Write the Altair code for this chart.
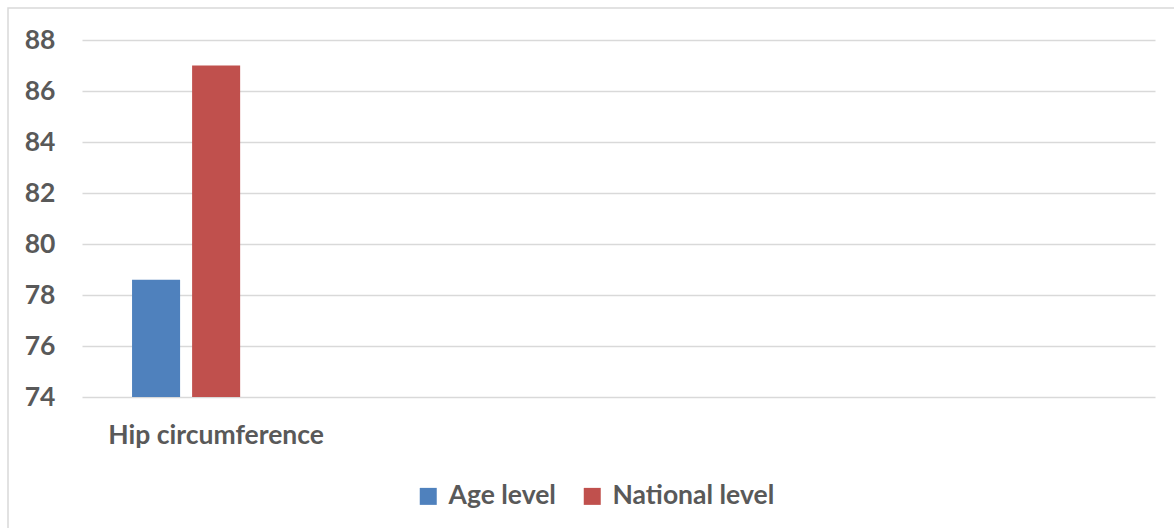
import altair as alt
import pandas as pd

# Category axis: one measured category plus three unlabeled slots
categories = ["Hip circumference", " ", "  ", "   "]
series = ["Age level", "National level", "   "]
series_colors = ["#4F81BD", "#C0504D"]

measure = ["Hip circumference", "Hip circumference"]
level = ["Age level", "National level"]
values = [78.6, 87.0]

y_ticks = [74, 76, 78, 80, 82, 84, 86, 88]

df = pd.DataFrame({"measure": measure, "level": level, "value": values})

FONT = "Lato"
TEXT = "#595959"
GRID = "#D9D9D9"
FS = 26.5

W, H = 1073, 357
PAD_L, PAD_T = 82, 40

bars = alt.Chart(df).mark_bar().encode(
    x=alt.X(
        "measure:N",
        scale=alt.Scale(domain=categories, paddingInner=0, paddingOuter=0),
        sort=categories,
        axis=alt.Axis(
            title=None, domain=False, ticks=False, grid=False,
            labelAngle=0, labelFont=FONT, labelFontWeight="bold",
            labelFontSize=FS, labelColor=TEXT, labelPadding=25,
            labelLimit=400,
        ),
    ),
    xOffset=alt.XOffset(
        "level:N",
        scale=alt.Scale(domain=series, paddingInner=0.2, paddingOuter=0.8333),
    ),
    y=alt.Y(
        "value:Q",
        scale=alt.Scale(domain=[74, 88], zero=False, nice=False),
        axis=alt.Axis(
            title=None, values=y_ticks, domain=False, ticks=False,
            grid=True, gridColor=GRID, gridWidth=1.5,
            labelFont=FONT, labelFontWeight="bold", labelFontSize=FS,
            labelColor=TEXT, labelPadding=27,
        ),
    ),
    y2=alt.datum(74),
    color=alt.Color(
        "level:N",
        scale=alt.Scale(domain=series[:2], range=series_colors),
        legend=alt.Legend(
            title=None, orient="none", direction="horizontal",
            legendX=333, legendY=443,
            symbolType="square", symbolSize=289, symbolStrokeWidth=0,
            labelFont=FONT, labelFontWeight="bold", labelFontSize=FS,
            labelColor=TEXT, labelOffset=7, columnPadding=23,
            labelLimit=400,
        ),
    ),
)

# Light frame around the chart area
frame = alt.Chart(pd.DataFrame({"f": [0]})).mark_rect(
    fill=None, stroke=GRID, strokeWidth=1.5
).encode(
    x=alt.value(-74), x2=alt.value(W + 40),
    y=alt.value(-32), y2=alt.value(H + 200),
)

chart = alt.layer(frame, bars).properties(
    width=W, height=H,
    autosize=alt.AutoSizeParams(type="none"),
    padding={"left": PAD_L, "top": PAD_T, "right": 1174 - PAD_L - W, "bottom": 528 - PAD_T - H},
    background="white",
).configure_view(stroke=None)

chart.save("out.html", embed_options={"renderer": "svg", "actions": False})
